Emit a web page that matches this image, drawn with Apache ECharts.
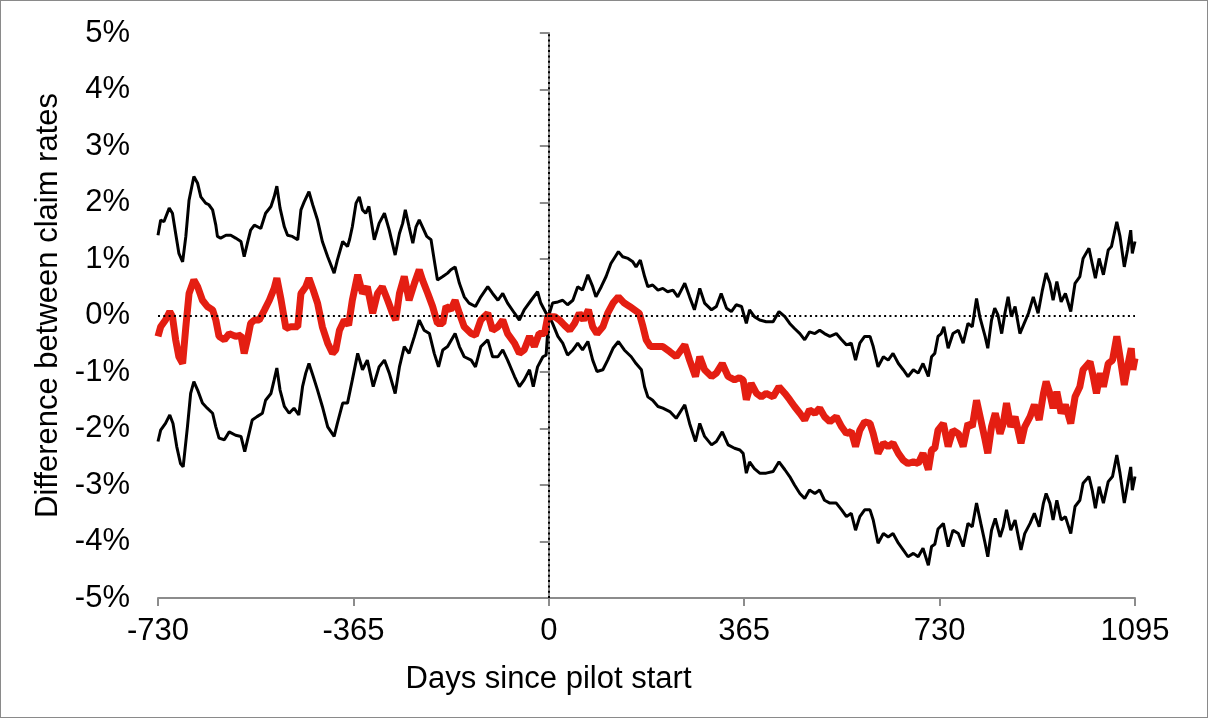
<!DOCTYPE html>
<html><head><meta charset="utf-8">
<script src="https://cdn.jsdelivr.net/npm/echarts@6/dist/echarts.min.js"></script>
<style>html,body{margin:0;padding:0;background:#fff}#c{width:1208px;height:718px;box-sizing:border-box;border:1px solid #8a8a8a}</style>
</head><body><div id="c"></div><script>
const xTitle = 'Days since pilot start';
const yTitle = 'Difference between claim rates';
const xMin = -730, xMax = 1095, xStep = 365;
const yMin = -5, yMax = 5, yStep = 1;
const refDay = 0, refVal = 0;

const upperDays = [-730,-725,-719,-709,-703,-697,-691,-684,-678,-672,-663,-656,-650,-641,-635,-628,-622,-619,-613,-603,-594,-585,-575,-569,-563,-557,-550,-544,-538,-529,-519,-513,-508,-502,-494,-488,-479,-469,-463,-457,-448,-441,-432,-423,-413,-401,-395,-385,-376,-372,-367,-360,-354,-348,-342,-336,-326,-317,-307,-298,-287,-279,-273,-268,-261,-254,-248,-242,-236,-228,-220,-214,-208,-198,-189,-183,-175,-167,-158,-149,-137,-127,-114,-105,-95,-86,-77,-64,-55,-46,-33,-21,-15,-5,0,7,17,26,35,45,54,63,73,82,88,98,107,116,124,130,138,148,157,163,171,179,185,194,204,213,222,232,241,254,263,272,282,291,304,313,322,332,341,350,360,369,375,384,394,406,419,430,441,450,459,469,478,487,497,506,515,525,537,547,556,565,573,581,590,600,606,615,625,634,643,653,662,671,681,690,699,709,715,721,727,733,738,746,755,765,774,783,791,799,805,815,820,827,833,839,846,852,858,864,871,880,888,896,905,914,922,929,936,942,949,957,965,975,983,992,998,1009,1015,1021,1028,1036,1045,1051,1061,1067,1075,1081,1087,1090,1095];
const upperVals = [1.42,1.69,1.66,1.90,1.81,1.45,1.10,0.95,1.40,2.04,2.46,2.34,2.10,1.99,1.96,1.87,1.60,1.40,1.37,1.42,1.42,1.37,1.31,1.04,1.28,1.51,1.60,1.57,1.54,1.81,1.93,2.10,2.29,1.90,1.57,1.42,1.40,1.34,1.87,2.01,2.19,1.96,1.69,1.31,1.04,0.75,0.98,1.31,1.22,1.35,1.57,1.99,2.10,1.87,1.81,1.93,1.34,1.63,1.81,1.51,1.07,1.45,1.63,1.87,1.57,1.28,1.57,1.69,1.57,1.40,1.34,0.98,0.63,0.69,0.75,0.81,0.86,0.57,0.33,0.22,0.16,0.33,0.51,0.39,0.27,0.39,0.22,0.04,-0.08,0.10,0.27,0.42,0.22,0.04,0,0.22,0.24,0.27,0.19,0.27,0.51,0.45,0.72,0.51,0.33,0.51,0.69,0.92,1.04,1.13,1.04,1.01,0.95,0.86,0.98,0.69,0.51,0.54,0.45,0.48,0.42,0.45,0.33,0.57,0.33,0.10,0.48,0.22,0.10,0.16,0.39,0.13,0.07,0.19,0.16,-0.14,0.10,-0.02,-0.08,-0.11,-0.11,0.07,-0.02,-0.14,-0.23,-0.32,-0.43,-0.29,-0.32,-0.26,-0.32,-0.37,-0.32,-0.43,-0.52,-0.49,-0.79,-0.49,-0.37,-0.37,-0.55,-0.91,-0.73,-0.79,-0.67,-0.85,-0.96,-1.08,-0.96,-1.02,-0.85,-1.08,-0.73,-0.67,-0.37,-0.32,-0.20,-0.58,-0.32,-0.26,-0.49,-0.14,-0.20,0.30,-0.02,-0.37,-0.58,-0.08,0.13,0.01,-0.32,0.04,0.33,-0.02,0.16,-0.32,-0.14,0.04,0.33,0.04,0.45,0.75,0.57,0.27,0.60,0.24,0.39,0.07,0.57,0.69,1.01,1.19,0.92,0.66,1.01,0.72,1.16,1.22,1.66,1.40,0.86,1.16,1.51,1.10,1.31];

const centerDays = [-730,-725,-716,-708,-703,-697,-691,-684,-678,-672,-663,-656,-647,-638,-628,-622,-616,-606,-597,-585,-575,-569,-563,-557,-550,-541,-531,-522,-513,-508,-500,-491,-482,-469,-463,-454,-448,-440,-432,-423,-413,-404,-398,-391,-382,-374,-367,-357,-348,-339,-329,-320,-311,-301,-292,-286,-279,-270,-261,-251,-242,-236,-226,-217,-208,-198,-192,-183,-175,-167,-158,-145,-137,-127,-114,-105,-95,-86,-77,-64,-55,-46,-36,-27,-18,-8,-2,0,11,20,29,39,48,57,65,74,82,90,101,110,120,130,141,151,160,169,176,182,190,201,213,226,238,254,263,274,282,291,304,313,324,335,347,356,363,369,378,388,397,406,419,430,441,450,459,469,478,487,497,506,515,525,537,547,556,565,573,581,590,600,606,615,625,634,643,653,662,671,681,690,699,709,715,721,727,737,746,755,765,774,783,791,799,807,815,820,827,834,843,849,855,863,871,882,889,899,907,916,924,929,936,942,949,957,965,975,983,992,998,1011,1017,1023,1030,1036,1045,1053,1061,1067,1075,1081,1088,1091,1095];
const centerVals = [-0.37,-0.20,-0.08,0.07,-0.02,-0.43,-0.73,-0.85,-0.20,0.39,0.63,0.51,0.27,0.16,0.10,-0.08,-0.37,-0.43,-0.32,-0.37,-0.35,-0.67,-0.43,-0.14,-0.08,-0.08,0.10,0.27,0.48,0.66,0.27,-0.23,-0.20,-0.20,0.39,0.51,0.66,0.45,0.22,-0.20,-0.49,-0.67,-0.61,-0.26,-0.08,-0.17,0.27,0.72,0.39,0.51,0.04,0.39,0.51,0.27,0.04,-0.08,0.39,0.69,0.27,0.57,0.81,0.63,0.39,0.16,-0.14,-0.14,0.16,0.10,0.27,0.04,-0.20,-0.32,-0.35,-0.08,0.04,-0.26,-0.20,-0.08,-0.32,-0.49,-0.67,-0.61,-0.37,-0.55,-0.32,-0.32,-0.02,0,-0.02,-0.08,-0.17,-0.26,-0.14,0.04,-0.08,0.10,-0.20,-0.32,-0.20,0.04,0.22,0.33,0.22,0.16,0.10,0.04,-0.20,-0.43,-0.55,-0.55,-0.55,-0.64,-0.73,-0.52,-0.79,-1.08,-0.73,-0.96,-1.08,-1.02,-0.85,-1.08,-1.14,-1.10,-1.14,-1.49,-1.20,-1.38,-1.44,-1.38,-1.44,-1.26,-1.38,-1.49,-1.61,-1.73,-1.85,-1.67,-1.73,-1.64,-1.79,-1.88,-1.79,-1.97,-2.09,-2.05,-2.32,-2.03,-1.88,-1.91,-2.09,-2.44,-2.26,-2.32,-2.26,-2.44,-2.56,-2.62,-2.59,-2.62,-2.44,-2.73,-2.38,-2.35,-2.03,-1.91,-2.32,-2.03,-2.09,-2.32,-1.91,-1.97,-1.50,-1.85,-2.20,-2.44,-1.97,-1.73,-2.09,-1.91,-1.55,-1.97,-1.79,-2.26,-1.97,-1.79,-1.58,-1.85,-1.38,-1.17,-1.38,-1.64,-1.35,-1.73,-1.58,-1.91,-1.44,-1.26,-0.96,-0.82,-1.08,-1.38,-1.02,-1.26,-0.85,-0.79,-0.37,-0.73,-1.23,-0.91,-0.58,-0.96,-0.76];

const lowerDays = [-730,-725,-716,-708,-702,-695,-688,-683,-675,-669,-663,-656,-647,-638,-628,-622,-616,-606,-597,-585,-575,-568,-560,-554,-545,-535,-529,-519,-513,-508,-502,-494,-485,-476,-467,-460,-454,-448,-440,-432,-423,-413,-401,-395,-385,-376,-367,-357,-348,-339,-328,-317,-307,-298,-287,-279,-270,-261,-251,-242,-233,-223,-214,-206,-198,-189,-175,-167,-158,-145,-137,-127,-114,-105,-95,-86,-77,-64,-55,-46,-36,-29,-21,-11,-5,0,7,17,26,35,45,54,63,73,82,90,101,110,120,130,141,154,163,173,179,185,194,204,213,226,238,254,263,274,282,291,304,313,324,335,347,357,363,369,375,384,394,406,419,430,441,450,459,469,478,487,497,506,515,525,537,547,556,565,573,581,590,600,606,615,625,634,643,653,662,671,681,690,699,709,715,721,727,737,746,755,765,774,783,791,799,807,815,820,827,834,843,849,855,863,871,882,889,899,907,916,924,929,936,942,949,957,965,975,983,992,998,1009,1015,1021,1028,1036,1045,1053,1061,1067,1075,1081,1087,1090,1095];
const lowerVals = [-2.23,-2.03,-1.91,-1.76,-1.91,-2.32,-2.62,-2.68,-1.97,-1.38,-1.17,-1.32,-1.55,-1.64,-1.73,-1.97,-2.17,-2.20,-2.06,-2.12,-2.14,-2.41,-2.09,-1.85,-1.79,-1.73,-1.50,-1.38,-1.14,-0.93,-1.32,-1.61,-1.73,-1.64,-1.76,-1.26,-1.02,-0.85,-1.08,-1.32,-1.61,-1.97,-2.14,-1.91,-1.55,-1.55,-1.14,-0.67,-0.96,-0.79,-1.26,-0.91,-0.79,-1.02,-1.38,-0.91,-0.55,-0.67,-0.37,-0.08,-0.26,-0.32,-0.67,-0.91,-0.61,-0.55,-0.32,-0.55,-0.73,-0.79,-0.91,-0.55,-0.43,-0.73,-0.73,-0.61,-0.79,-1.08,-1.26,-1.14,-0.96,-1.26,-0.91,-0.73,-0.70,0,-0.14,-0.37,-0.49,-0.70,-0.61,-0.49,-0.61,-0.46,-0.79,-0.99,-0.96,-0.79,-0.58,-0.46,-0.61,-0.73,-0.85,-0.96,-1.26,-1.44,-1.50,-1.61,-1.64,-1.70,-1.82,-1.58,-1.91,-2.23,-1.91,-2.14,-2.29,-2.23,-2.06,-2.29,-2.35,-2.38,-2.44,-2.79,-2.59,-2.71,-2.79,-2.79,-2.76,-2.59,-2.73,-2.85,-3.00,-3.15,-3.24,-3.09,-3.15,-3.09,-3.27,-3.32,-3.32,-3.44,-3.56,-3.50,-3.80,-3.56,-3.44,-3.44,-3.62,-4.03,-3.86,-3.92,-3.86,-4.03,-4.15,-4.27,-4.21,-4.27,-4.12,-4.42,-4.09,-4.05,-3.78,-3.68,-4.09,-3.80,-3.86,-4.09,-3.68,-3.74,-3.32,-3.68,-4.03,-4.27,-3.80,-3.59,-3.92,-3.74,-3.44,-3.80,-3.62,-4.15,-3.86,-3.68,-3.50,-3.74,-3.32,-3.15,-3.32,-3.62,-3.27,-3.62,-3.56,-3.86,-3.38,-3.27,-2.97,-2.85,-3.09,-3.41,-3.03,-3.32,-2.94,-2.85,-2.47,-2.79,-3.32,-3.00,-2.68,-3.09,-2.85];

const zip = (d, v) => d.map((x, i) => [x, v[i]]);
const font = "'Liberation Sans', Arial, sans-serif";
const fs = 31;

const chart = echarts.init(document.getElementById('c'), null, {renderer: 'canvas'});
chart.setOption({
  animation: false,
  backgroundColor: '#ffffff',
  grid: {left: 157, right: 72, top: 32, bottom: 119, containLabel: false},
  xAxis: {
    type: 'value', min: xMin, max: xMax, interval: xStep,
    name: xTitle, nameLocation: 'middle', nameGap: 66,
    nameTextStyle: {fontFamily: font, fontSize: fs, color: '#000', padding: [0, 196, 0, 0]},
    axisLine: {onZero: false, lineStyle: {color: '#8c8c8c', width: 2}},
    axisTick: {show: true, inside: false, length: 8, lineStyle: {color: '#8c8c8c', width: 2}},
    axisLabel: {fontFamily: font, fontSize: fs, color: '#000', margin: 18, formatter: v => String(v)},
    splitLine: {show: false}
  },
  yAxis: {
    type: 'value', min: yMin, max: yMax, interval: yStep,
    name: yTitle, nameLocation: 'middle', nameGap: 92, nameRotate: 90,
    nameTextStyle: {fontFamily: font, fontSize: fs, color: '#000', padding: [0, 0, 0, 20]},
    axisLine: {show: true, lineStyle: {color: '#8c8c8c', width: 2}},
    axisTick: {show: true, inside: false, length: 9, lineStyle: {color: '#8c8c8c', width: 2}},
    axisLabel: {fontFamily: font, fontSize: fs, color: '#000', margin: 28, formatter: v => String(v) + '%'},
    splitLine: {show: false}
  },
  series: [
    {
      type: 'line', name: 'Upper', data: zip(upperDays, upperVals), showSymbol: false, symbol: 'none',
      lineStyle: {color: '#000', width: 3}, z: 3,
      markLine: {
        silent: true, symbol: ['none', 'none'], label: {show: false},
        lineStyle: {color: '#000', type: [2, 3.3], width: 2},
        data: [{xAxis: refDay}, {yAxis: refVal}]
      }
    },
    {
      type: 'line', name: 'Lower', data: zip(lowerDays, lowerVals), showSymbol: false, symbol: 'none',
      lineStyle: {color: '#000', width: 3}, z: 3
    },
    {
      type: 'line', name: 'Estimate', data: zip(centerDays, centerVals), showSymbol: false, symbol: 'none',
      lineStyle: {color: '#e41e12', width: 7}, z: 4
    }
  ]
});
</script></body></html>
